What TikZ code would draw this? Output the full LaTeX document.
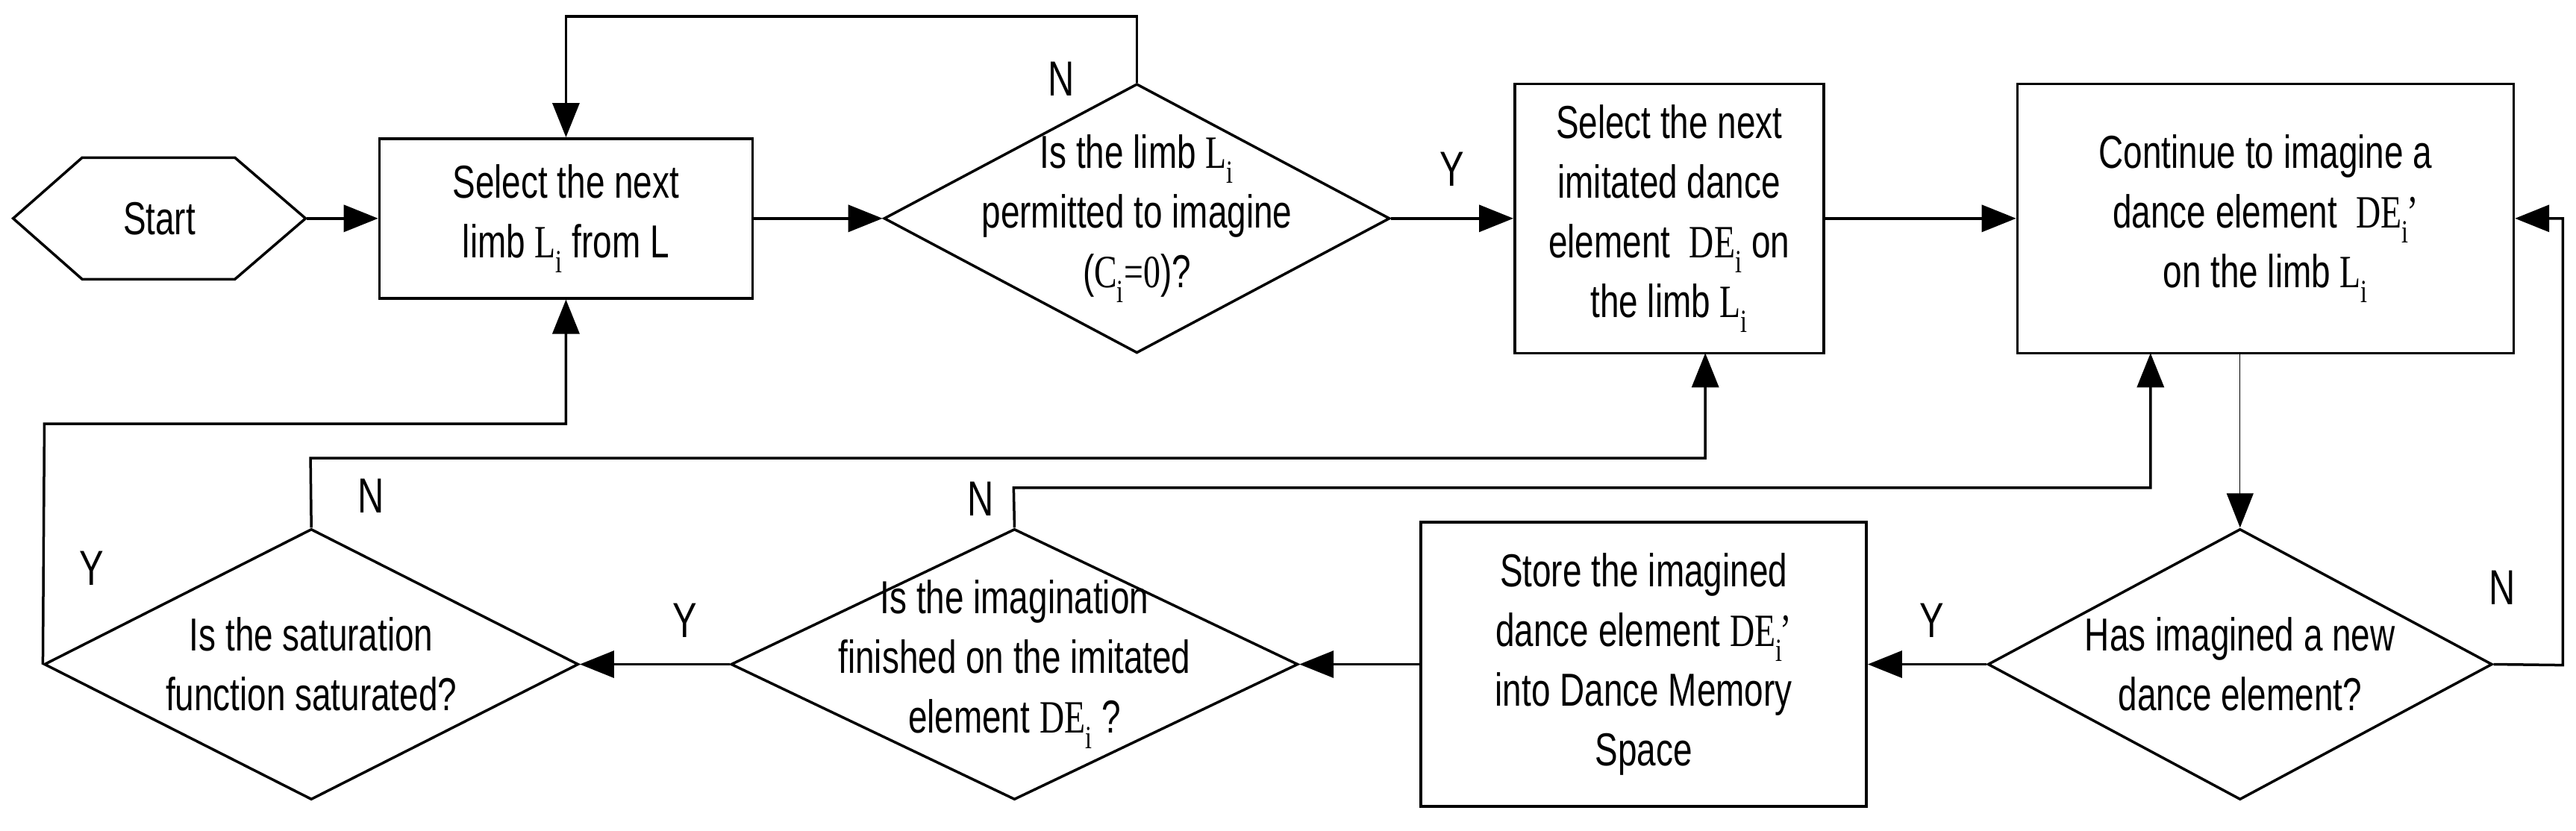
\documentclass[tikz,border=0pt]{standalone}
\usepackage{fontspec}
\setmainfont[FakeStretch=0.74]{Liberation Sans}
\newfontfamily\tnr[FakeStretch=0.74]{Liberation Serif}
\usetikzlibrary{shapes.geometric,arrows.meta}
\newcommand\Lsub{{\tnr L\textsubscript{i}}}
\newcommand\DEs{{\tnr DE\textsubscript{i}}}
\newcommand\DEq{{\tnr DE\textsubscript{i}\kern-0.05em’}}
\begin{document}
\begin{tikzpicture}[x=2.2015pt,y=-2.2015pt,
  line width=3.5pt,
  every node/.style={font=\fontsize{62}{80}\selectfont, align=center, inner sep=0pt},
  box/.style={draw, rectangle},
  dia/.style={draw, diamond, inner xsep=-500pt, inner ysep=-250pt},
  arr/.style={-{Triangle[length=46pt,width=36pt]}},
  lab/.style={font=\fontsize{66}{80}\selectfont}]
\useasboundingbox (0,0) rectangle (1568,506);
\draw (8,133) -- (50,96) -- (143,96) -- (186,133) -- (143,170) -- (50,170) -- cycle;
\node (start) [minimum width=392pt, minimum height=163pt] at (97,133) {Start};
\node (b1) [box, minimum width=500pt, minimum height=214pt] at (344.5,133) {Select the next\\limb \Lsub\ from L};
\node (d1) [dia, minimum width=678pt, minimum height=361pt] at (692,133) {Is the limb \Lsub\\permitted to imagine\\({\tnr C\textsubscript{i}=0})?};
\node (b2) [box, minimum width=414pt, minimum height=361pt] at (1016,133) {Select the next\\imitated dance\\element \ \DEs\ on\\the limb \Lsub};
\node (b3) [box, minimum width=665pt, minimum height=361pt] at (1379,133) {Continue to imagine a\\dance element \ \DEq\\on the limb \Lsub};
\node (d4) [dia, minimum width=676pt, minimum height=363pt] at (1363.5,404.5) {Has imagined a new\\dance element?};
\node (b4) [box, minimum width=597pt, minimum height=381pt] at (1000.5,404.5) {Store the imagined\\dance element \DEq\\into Dance Memory\\Space};
\node (d2) [dia, minimum width=760pt, minimum height=363pt] at (617.5,404.5) {Is the imagination\\finished on the imitated\\element \DEs\ ?};
\node (d3) [dia, minimum width=716pt, minimum height=363pt] at (189.5,404.5) {Is the saturation\\function saturated?};
\coordinate (t) at (692,10);
\coordinate (r) at (1560,405);
\coordinate (c2) at (617,297);
\coordinate (a3) at (1309,215);
\coordinate (c3) at (189,279);
\coordinate (a2) at (1038,215);
\coordinate (c4) at (27,258);
\draw[arr] (start.east) -- (b1.west);
\draw[arr] (b1.east) -- (d1.west);
\draw[arr] (d1.east) -- (b2.west);
\draw[arr] (b2.east) -- (b3.west);
\draw[arr] (d1.north) -- (t) -| (b1.north);
\draw[arr,line width=1.2pt] (d4.north |- b3.south) -- (d4.north);
\draw[arr] (d4.east) -- (r) |- (b3.east);
\draw[arr] (d4.west) -- (b4.east);
\draw[arr] (b4.west) -- (d2.east);
\draw[arr] (d2.west) -- (d3.east);
\draw[arr] (d2.north) -- (c2) -| (a3);
\draw[arr] (d3.north) -- (c3) -| (a2);
\draw[arr] (d3.west) -- (c4) -| (b1.south);
\node[lab] (n1) at (646,48) {N};
\node[lab] (y1) at (884,103) {Y};
\node[lab] (n3) at (226,302) {N};
\node[lab] (y4) at (56,346) {Y};
\node[lab] (n2) at (597,304) {N};
\node[lab] (y3) at (417,378) {Y};
\node[lab] (y2) at (1176,378) {Y};
\node[lab] (n4) at (1523,358) {N};
\end{tikzpicture}
\end{document}
